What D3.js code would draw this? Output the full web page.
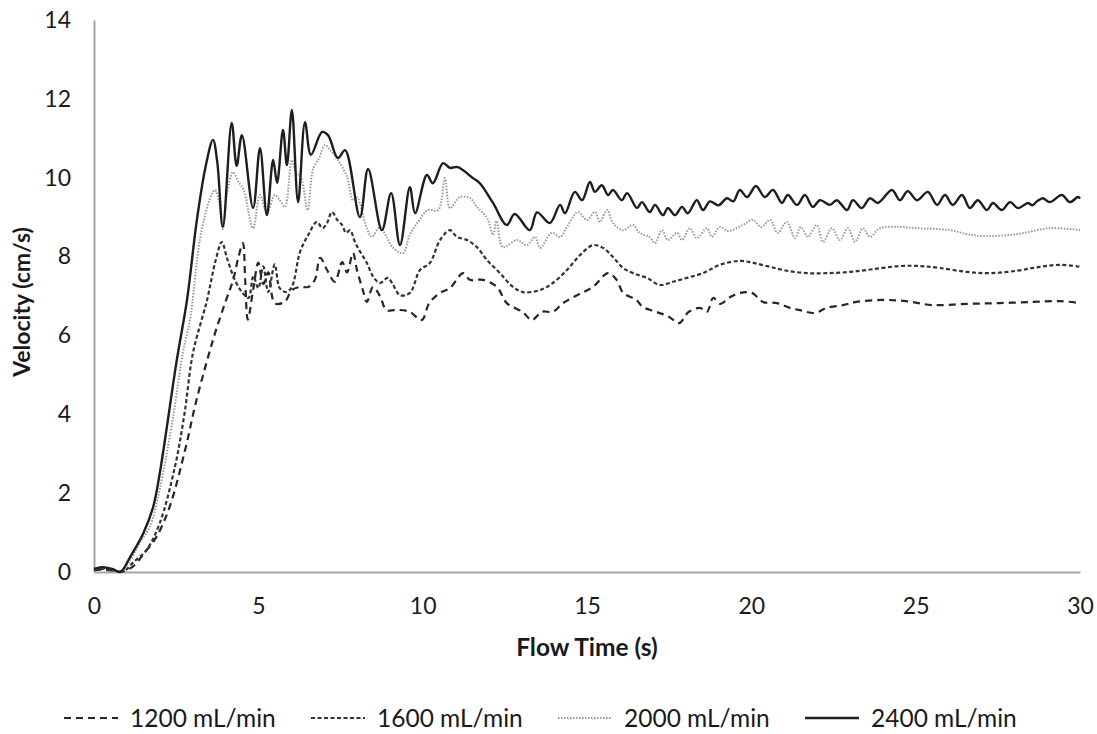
<!DOCTYPE html>
<html>
<head>
<meta charset="utf-8">
<script src="https://cdn.jsdelivr.net/npm/d3@7"></script>
<style>
  body { margin: 0; background: #fff; }
  text { font-family: Lato, "Open Sans", sans-serif; fill: #1a1a1a; }
</style>
</head>
<body>
<div id="chart"></div>
<script>
const SVG_WIDTH = 1097;
const SVG_HEIGHT = 734;
const MARGIN = { top: 20, right: 17, bottom: 162, left: 94 };

// velocity traces [time (s), velocity (cm/s)]
const flow1200 = [[0,0.05],[0.3,0.06],[0.6,0.03],[0.9,0.02],[1.2,0.15],[1.5,0.45],[1.9,0.89],[2.3,1.65],[2.77,3.09],[3.1,4.3],[3.47,5.45],[3.74,6.21],[4.05,6.97],[4.23,7.4],[4.4,8.0],[4.53,8.34],[4.6,7.4],[4.68,6.4],[4.85,7.2],[5.0,7.85],[5.15,7.3],[5.3,7.6],[5.5,6.82],[5.8,6.85],[6.02,7.15],[6.27,7.23],[6.52,7.23],[6.72,7.41],[6.88,7.97],[7.09,7.66],[7.33,7.36],[7.55,7.86],[7.7,7.6],[7.88,8.09],[8.0,7.66],[8.18,7.15],[8.3,6.85],[8.49,7.23],[8.7,7.0],[8.9,6.64],[9.2,6.65],[9.6,6.6],[9.97,6.39],[10.2,6.82],[10.53,7.08],[10.83,7.2],[11.23,7.58],[11.44,7.41],[11.83,7.41],[12.26,7.23],[12.56,6.82],[13.05,6.59],[13.32,6.39],[13.63,6.6],[13.96,6.6],[14.27,6.82],[14.7,7.02],[15.18,7.23],[15.64,7.58],[15.9,7.41],[16.1,7.08],[16.5,6.9],[16.7,6.72],[17.1,6.6],[17.5,6.47],[17.8,6.31],[18.1,6.6],[18.44,6.7],[18.65,6.6],[18.84,6.95],[19.05,6.8],[19.35,6.97],[19.65,7.08],[20.02,7.08],[20.35,6.85],[20.78,6.82],[21.17,6.7],[21.48,6.64],[21.93,6.57],[22.3,6.7],[22.79,6.77],[23.2,6.85],[24.0,6.9],[24.7,6.87],[25.5,6.77],[26.55,6.8],[27.56,6.82],[28.57,6.85],[29.4,6.87],[30,6.82]];

const flow1600 = [[0,0.06],[0.3,0.08],[0.6,0.04],[0.9,0.02],[1.2,0.25],[1.6,0.56],[2.0,1.24],[2.46,2.66],[2.75,4.0],[3.01,5.55],[3.44,6.9],[3.7,7.9],[3.89,8.37],[4.05,7.95],[4.29,7.4],[4.5,7.1],[4.7,6.95],[4.85,7.5],[5.0,7.2],[5.15,7.75],[5.3,7.1],[5.5,7.8],[5.65,7.2],[5.85,7.1],[6.02,7.23],[6.27,8.12],[6.52,8.55],[6.78,8.88],[6.95,8.72],[7.09,8.85],[7.24,9.13],[7.4,8.93],[7.55,8.8],[7.67,8.6],[7.79,8.67],[7.94,8.37],[8.1,8.12],[8.3,7.84],[8.5,7.48],[8.7,7.33],[8.94,7.46],[9.1,7.28],[9.31,7.02],[9.61,7.08],[9.92,7.66],[10.22,7.84],[10.53,8.42],[10.83,8.67],[11.04,8.5],[11.35,8.42],[11.65,8.24],[11.96,7.91],[12.35,7.58],[12.75,7.23],[13.05,7.1],[13.57,7.15],[13.96,7.33],[14.39,7.66],[14.79,8.04],[15.18,8.29],[15.49,8.22],[15.79,7.99],[16.1,7.71],[16.4,7.58],[16.82,7.46],[17.22,7.28],[17.61,7.36],[18.04,7.46],[18.53,7.58],[19.04,7.79],[19.65,7.89],[20.05,7.84],[20.57,7.74],[21.08,7.64],[21.69,7.58],[22.3,7.58],[23.0,7.61],[23.7,7.68],[24.52,7.76],[25.13,7.76],[25.74,7.71],[26.56,7.61],[27.26,7.58],[28.08,7.64],[28.78,7.74],[29.4,7.79],[30,7.74]];

const flow2000 = [[0,0.08],[0.25,0.1],[0.55,0.07],[0.8,0.0],[1.1,0.3],[1.4,0.75],[1.7,1.15],[2.0,2.1],[2.4,3.9],[2.7,5.55],[2.92,6.39],[3.22,8.42],[3.5,9.4],[3.68,9.69],[3.8,9.4],[3.92,8.7],[4.05,9.6],[4.23,10.14],[4.4,9.89],[4.55,9.7],[4.84,8.72],[5.05,9.56],[5.26,9.1],[5.5,9.56],[5.65,9.43],[5.81,9.26],[6.02,10.45],[6.15,10.14],[6.3,10.0],[6.5,9.18],[6.66,10.2],[6.85,10.5],[7.03,10.83],[7.18,10.7],[7.42,10.45],[7.7,10.02],[7.88,9.43],[8.0,9.5],[8.3,8.72],[8.45,8.5],[8.7,8.75],[8.9,8.5],[9.1,8.22],[9.4,8.09],[9.61,8.55],[9.86,8.88],[10.16,9.18],[10.47,9.18],[10.68,9.99],[10.83,9.23],[11.13,9.51],[11.44,9.48],[11.65,9.26],[11.96,8.98],[12.14,8.55],[12.25,8.9],[12.44,8.24],[12.87,8.42],[13.17,8.29],[13.42,8.5],[13.57,8.22],[13.93,8.6],[14.18,8.5],[14.39,8.75],[14.72,9.13],[15.0,8.93],[15.24,9.13],[15.39,8.88],[15.61,9.18],[15.79,8.85],[16.1,8.67],[16.4,8.8],[16.6,8.6],[16.9,8.5],[17.07,8.34],[17.28,8.67],[17.46,8.42],[17.74,8.6],[17.89,8.42],[18.13,8.72],[18.34,8.47],[18.65,8.72],[18.8,8.5],[19.04,8.75],[19.3,8.65],[19.74,8.8],[20.05,8.93],[20.3,8.75],[20.57,8.93],[20.8,8.6],[21.08,8.88],[21.33,8.47],[21.5,8.75],[21.72,8.5],[21.99,8.8],[22.18,8.37],[22.45,8.72],[22.69,8.42],[22.94,8.72],[23.15,8.37],[23.4,8.72],[23.61,8.5],[23.91,8.72],[24.52,8.75],[25.04,8.72],[26.04,8.67],[26.56,8.57],[27.05,8.52],[28.08,8.57],[29.08,8.72],[30,8.67]];

const flow2400 = [[0,0.08],[0.25,0.12],[0.55,0.08],[0.8,0.0],[1.1,0.38],[1.5,0.98],[1.8,1.65],[2.0,2.5],[2.52,5.38],[2.83,6.9],[3.13,8.93],[3.4,10.3],[3.62,10.96],[3.75,10.4],[3.92,8.75],[4.19,11.39],[4.34,10.3],[4.5,11.08],[4.84,9.23],[5.05,10.75],[5.26,9.05],[5.45,10.45],[5.57,9.87],[5.75,11.21],[5.87,10.32],[6.02,11.72],[6.21,9.38],[6.42,11.41],[6.6,10.58],[6.94,11.16],[7.12,11.08],[7.42,10.5],[7.64,10.7],[8.09,9.0],[8.34,10.22],[8.76,8.67],[9.04,9.61],[9.31,8.29],[9.61,9.76],[9.77,9.1],[10.13,10.07],[10.31,9.86],[10.62,10.37],[10.83,10.25],[11.07,10.27],[11.53,9.99],[11.74,9.86],[12.14,9.36],[12.56,8.8],[12.8,9.08],[13.26,8.67],[13.48,9.12],[13.87,8.85],[14.18,9.31],[14.33,9.1],[14.63,9.64],[14.85,9.43],[15.09,9.89],[15.24,9.64],[15.45,9.81],[15.64,9.56],[15.79,9.69],[16.06,9.43],[16.22,9.61],[16.52,9.23],[16.67,9.38],[16.91,9.13],[17.07,9.31],[17.31,9.05],[17.46,9.23],[17.68,9.05],[17.89,9.26],[18.07,9.1],[18.34,9.43],[18.53,9.18],[18.74,9.4],[19.0,9.3],[19.26,9.48],[19.45,9.4],[19.65,9.69],[19.87,9.51],[20.14,9.79],[20.41,9.51],[20.66,9.69],[20.93,9.36],[21.11,9.56],[21.39,9.31],[21.63,9.56],[21.87,9.26],[22.09,9.43],[22.39,9.31],[22.6,9.43],[22.91,9.18],[23.09,9.43],[23.36,9.23],[23.61,9.48],[23.85,9.36],[24.28,9.69],[24.52,9.43],[24.76,9.66],[25.04,9.43],[25.37,9.64],[25.65,9.31],[25.89,9.56],[26.13,9.31],[26.41,9.56],[26.65,9.23],[26.89,9.43],[27.17,9.18],[27.35,9.36],[27.62,9.18],[27.87,9.38],[28.11,9.23],[28.42,9.36],[28.55,9.3],[28.69,9.4],[28.87,9.48],[29.08,9.38],[29.45,9.56],[29.69,9.38],[29.94,9.51],[30,9.47]];

const seriesNames = ["1200 mL/min", "1600 mL/min", "2000 mL/min", "2400 mL/min"];
const xTicks = [0, 5, 10, 15, 20, 25, 30];
const yTicks = [0, 2, 4, 6, 8, 10, 12, 14];

// line look for each series, same order as the names
const STYLES = [
    { stroke: "#262626", width: 2.2, dash: "7,5" },
    { stroke: "#333333", width: 2.2, dash: "4,2.5" },
    { stroke: "#9a9a9a", width: 2, dash: "1.5,1.5" },
    { stroke: "#1e1e1e", width: 2.4, dash: null }
];

const getScales = () => {
    const x = d3.scaleLinear()
        .domain([0, 30])
        .range([MARGIN.left, SVG_WIDTH - MARGIN.right]);
    const y = d3.scaleLinear()
        .domain([0, 14])
        .range([SVG_HEIGHT - MARGIN.bottom, MARGIN.top]);
    return { x, y };
};

const appendAxes = (svg, scales) => {
    const xAxis = svg.append("g")
        .attr("transform", `translate(0,${SVG_HEIGHT - MARGIN.bottom})`)
        .call(d3.axisBottom(scales.x).tickValues(xTicks).tickSize(0).tickPadding(26));
    const yAxis = svg.append("g")
        .attr("transform", `translate(${MARGIN.left},0)`)
        .call(d3.axisLeft(scales.y).tickValues(yTicks).tickSize(0).tickPadding(23));

    [xAxis, yAxis].forEach(g => {
        g.select(".domain").attr("stroke", "#a6a6a6").attr("stroke-width", 2);
        g.selectAll("text")
            .style("font-family", "Lato, sans-serif")
            .style("font-size", "23px")
            .attr("fill", "#1a1a1a");
    });

    svg.append("text")
        .attr("x", (MARGIN.left + SVG_WIDTH - MARGIN.right) / 2)
        .attr("y", 656)
        .attr("text-anchor", "middle")
        .style("font-size", "24.5px")
        .style("font-weight", "bold")
        .text("Flow Time (s)");

    svg.append("text")
        .attr("transform", `translate(30,${(MARGIN.top + SVG_HEIGHT - MARGIN.bottom) / 2 + 6}) rotate(-90)`)
        .attr("text-anchor", "middle")
        .style("font-size", "23px")
        .style("font-weight", "bold")
        .text("Velocity (cm/s)");
};

const appendData = (svg, scales) => {
    const line = d3.line()
        .x(d => scales.x(d[0]))
        .y(d => scales.y(d[1]))
        .curve(d3.curveCatmullRom.alpha(0.5));

    [flow1200, flow1600, flow2000, flow2400].forEach((data, i) => {
        svg.append("path")
            .datum(data)
            .attr("fill", "none")
            .attr("stroke", STYLES[i].stroke)
            .attr("stroke-width", STYLES[i].width)
            .attr("stroke-dasharray", STYLES[i].dash)
            .attr("d", line);
    });
};

const appendLegend = (svg) => {
    const legend = svg.append("g").attr("transform", "translate(64,718)");
    seriesNames.forEach((name, i) => {
        const item = legend.append("g").attr("transform", `translate(${i * 247},0)`);
        item.append("line")
            .attr("x1", 0).attr("x2", 54)
            .attr("stroke", STYLES[i].stroke)
            .attr("stroke-width", STYLES[i].width)
            .attr("stroke-dasharray", STYLES[i].dash);
        item.append("text")
            .attr("x", 66)
            .attr("dy", "0.35em")
            .style("font-size", "24.5px")
            .text(name);
    });
};

const drawVelocityChart = (containerId) => {
    const container = d3.select("#" + containerId);
    container.html("");

    const svg = container.append("svg")
        .attr("width", SVG_WIDTH)
        .attr("height", SVG_HEIGHT);

    const scales = getScales();

    appendAxes(svg, scales);
    appendData(svg, scales);
    appendLegend(svg);
};

drawVelocityChart("chart");
</script>
</body>
</html>
